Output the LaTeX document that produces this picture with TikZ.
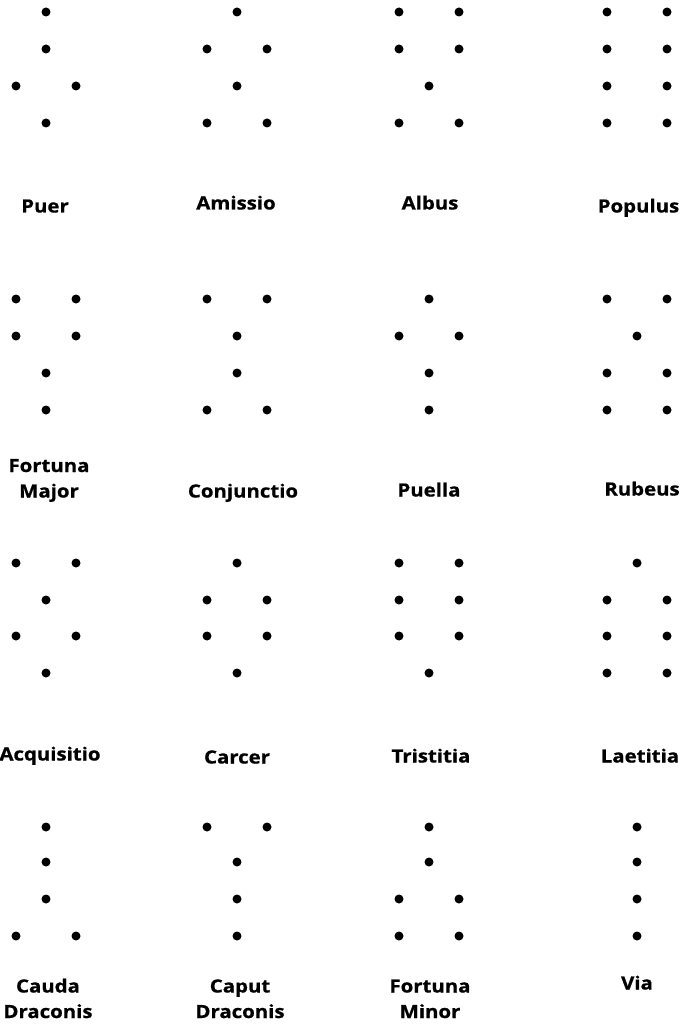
\documentclass[tikz,border=0pt]{standalone}
\usepackage{fontspec}
\setmainfont{Open Sans}
\newfontfamily\lblfont[FakeStretch=1.12,FakeBold=0.8]{Open Sans}
\tikzset{
  dot/.style={circle,fill=black,draw=none,minimum size=9pt,inner sep=0pt},
  lbl/.style={anchor=base,align=center,inner sep=0pt,font=\lblfont\bfseries\fontsize{18.2}{25.5}\selectfont}
}
\newcommand\geofig[3]{%
  \foreach \yy/\n [count=\i] in {#3} {%
    \ifnum\n=1
      \node[dot] (#1-\i) at (#2,\yy) {};
    \else
      \node[dot] (#1-\i a) at (#2-30,\yy) {};
      \node[dot] (#1-\i b) at (#2+30,\yy) {};
    \fi
  }%
}
\begin{document}
\begin{tikzpicture}[x=1pt,y=-1pt]
\useasboundingbox (0,0) rectangle (682,1024);
% row 1
\geofig{puer}{46}{12/1,49/1,86/2,123/1}
\geofig{amissio}{237}{12/1,49/2,86/1,123/2}
\geofig{albus}{429}{12/2,49/2,86/1,123/2}
\geofig{populus}{637}{12/2,49/2,86/2,123/2}
\node[lbl] (lpuer) at (45,212.5) {Puer};
\node[lbl] (lamissio) at (236,209.5) {Amissio};
\node[lbl] (lalbus) at (430,209.5) {Albus};
\node[lbl] (lpopulus) at (638.5,212.5) {Populus};
% row 2
\geofig{fmaj}{46}{299/2,336/2,373/1,410/1}
\geofig{conj}{237}{299/2,336/1,373/1,410/2}
\geofig{puella}{429}{299/1,336/2,373/1,410/1}
\geofig{rubeus}{637}{299/2,336/1,373/2,410/2}
\node[lbl] (lfmaj) at (49,497.5) {Fortuna\\Major};
\node[lbl] (lconj) at (243,497.5) {Conjunctio};
\node[lbl] (lpuella) at (429,496.5) {Puella};
\node[lbl] (lrubeus) at (642,495.5) {Rubeus};
% row 3
\geofig{acq}{46}{563/2,600/1,636/2,673/1}
\geofig{carcer}{237}{563/1,600/2,636/2,673/1}
\geofig{trist}{429}{563/2,600/2,636/2,673/1}
\geofig{laet}{637}{563/1,600/2,636/2,673/2}
\node[lbl] (lacq) at (50,760.5) {Acquisitio};
\node[lbl] (lcarcer) at (237,763.5) {Carcer};
\node[lbl] (ltrist) at (431,762.5) {Tristitia};
\node[lbl] (llaet) at (640,762.5) {Laetitia};
% row 4
\geofig{cauda}{46}{827/1,862/1,899/1,936/2}
\geofig{caput}{237}{827/2,862/1,899/1,936/1}
\geofig{fmin}{429}{827/1,862/1,899/2,936/2}
\geofig{via}{637}{827/1,862/1,899/1,936/1}
\node[lbl] (lcauda) at (48,1018) {Cauda\\Draconis};
\node[lbl] (lcaput) at (240,1018) {Caput\\Draconis};
\node[lbl] (lfmin) at (430,1018) {Fortuna\\Minor};
\node[lbl] (lvia) at (637,989.5) {Via};
\end{tikzpicture}
\end{document}
